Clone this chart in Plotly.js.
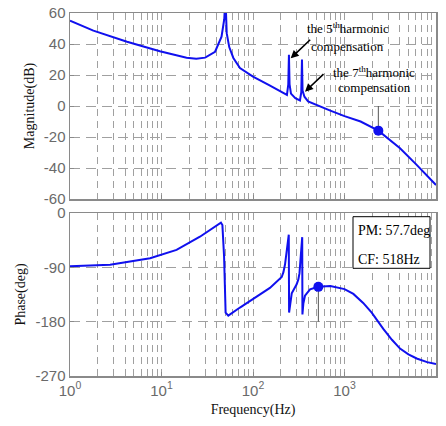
<!DOCTYPE html>
<html>
<head>
<meta charset="utf-8">
<script src="https://cdn.plot.ly/plotly-3.0.1.min.js"></script>
<style>html,body{margin:0;padding:0;background:#fff;}#chart{width:446px;height:426px;}</style>
</head>
<body>
<div id="chart"></div>
<script>
// Magnitude (dB) vs frequency (Hz)
const freqMag = [1, 1.8, 4.2, 9.6, 18.8, 24, 30, 38.5, 45.3, 48.5, 50, 51.6, 55, 61, 72, 100, 150, 215, 235, 243, 247, 251, 260, 290, 326, 337, 343, 348, 365, 400, 518, 700, 1000, 1500, 2343, 3000, 4045, 6150, 10000];
const magDb   = [55, 48.6, 41.5, 35.3, 31.2, 30.5, 31.2, 35, 44.7, 56, 70, 47, 38, 31, 24.5, 19, 13.5, 8.5, 7.2, 14, 33, 14, 8, 5, 3.6, 9, 30, 10, 6, 3, 0, -3, -6.5, -10, -15.9, -21, -27.3, -38, -51];

// Phase (deg) vs frequency (Hz)
const freqPh = [1, 2.74, 7.5, 14.6, 26.3, 40, 44.6, 46.3, 48.3, 50.2, 53.7, 72, 100, 153, 206, 215, 224, 233, 243, 246, 248, 265, 300, 313, 322, 332, 342, 345, 347, 355, 370, 420, 518, 700, 1000, 1250, 1600, 1983, 2655, 3300, 4045, 5000, 6150, 8000, 10000];
const phDeg  = [-88.4, -85.7, -74.8, -61, -39.3, -20.2, -15.8, -20, -72, -165, -170, -156.6, -142, -124, -106, -98, -85, -62, -40, -36, -165, -133, -118, -110, -100, -77, -50, -40, -168, -150, -137, -126.5, -122.3, -121, -126, -134, -149, -165, -192, -210, -224.6, -234, -241, -247, -250];

// Margin markers
const gmFreq = [2343];
const gmMag = [-15.9];
const gmLineMag = [0, -15.9];
const pmFreq = [518];
const pmPhase = [-122.3];
const pmLinePhase = [-180, -122.3];

// Axis ticks
const xTickVals = [1, 10, 100, 1000, 10000];
const xTickText = ['10<sup>0</sup>', '10<sup>1</sup>', '10<sup>2</sup>', '10<sup>3</sup>', '10<sup>4</sup>'];
const magTicks = [-60, -40, -20, 0, 20, 40, 60];
const magTickText = ['-60', '-40', '-20', '0', '20', '40', '60'];
const phTicks = [-270, -180, -90, 0];
const phTickText = ['-270', '-180', '-90', '0'];

const blue = '#1010ee';
const gridC = '#a0a0a0';
const frameC = '#8a8a8a';
const tickFont = {family: 'Liberation Sans, Arial, sans-serif', size: 15, color: '#6a6a6a'};
const titleFont = {family: 'Liberation Serif, Times New Roman, serif', size: 14, color: '#111'};

const traces = [
  {x: freqMag, y: magDb, xaxis: 'x', yaxis: 'y', mode: 'lines', line: {color: blue, width: 2}, hoverinfo: 'skip'},
  {x: [gmFreq[0], gmFreq[0]], y: gmLineMag, xaxis: 'x', yaxis: 'y', mode: 'lines', line: {color: '#555', width: 1}},
  {x: gmFreq, y: gmMag, xaxis: 'x', yaxis: 'y', mode: 'markers', marker: {color: blue, size: 10}},
  {x: freqPh, y: phDeg, xaxis: 'x2', yaxis: 'y2', mode: 'lines', line: {color: blue, width: 2}},
  {x: [pmFreq[0], pmFreq[0]], y: pmLinePhase, xaxis: 'x2', yaxis: 'y2', mode: 'lines', line: {color: '#555', width: 1}},
  {x: pmFreq, y: pmPhase, xaxis: 'x2', yaxis: 'y2', mode: 'markers', marker: {color: blue, size: 10}}
];

const xBase = {
  type: 'log', range: [0, 4], tickvals: xTickVals, ticktext: xTickText,
  showgrid: true, gridcolor: gridC, griddash: '7px,5px', gridwidth: 1,
  minor: {dtick: 'D1', showgrid: true, gridcolor: gridC, griddash: '7px,5px', gridwidth: 1, ticks: ''},
  showline: true, linecolor: frameC, linewidth: 1.5, mirror: true,
  ticks: 'inside', ticklen: 4, tickcolor: frameC,
  tickfont: tickFont, zeroline: false
};
const yBase = {
  showgrid: true, gridcolor: gridC, griddash: '10px,6px', gridwidth: 1,
  showline: true, linecolor: frameC, linewidth: 1.5, mirror: true,
  ticks: 'inside', ticklen: 4, tickcolor: frameC,
  tickfont: tickFont, zeroline: false
};

const px = v => (v - 70) / 366;
const py = v => (376 - v) / 363;
const annFont = {family: 'Liberation Serif, Times New Roman, serif', size: 13, color: '#000'};

const layout = {
  width: 446, height: 426,
  margin: {l: 70, r: 10, t: 13, b: 50},
  paper_bgcolor: '#fff', plot_bgcolor: '#fff',
  showlegend: false,
  xaxis: Object.assign({}, xBase, {domain: [0, 1], anchor: 'y', showticklabels: false}),
  yaxis: Object.assign({}, yBase, {domain: [0.4876, 1], range: [-60, 60], tickvals: magTicks, ticktext: magTickText, anchor: 'x',
    title: {text: 'Magnitude(dB)', font: titleFont, standoff: 6}}),
  xaxis2: Object.assign({}, xBase, {domain: [0, 1], anchor: 'y2', matches: 'x',
    title: {text: 'Frequency(Hz)', font: titleFont, standoff: 6}}),
  yaxis2: Object.assign({}, yBase, {domain: [0, 0.449], range: [-270, 0], tickvals: phTicks, ticktext: phTickText, anchor: 'x2',
    title: {text: 'Phase(deg)', font: titleFont, standoff: 6}}),
  shapes: [
    {type: 'rect', xref: 'paper', yref: 'paper', x0: px(353), x1: px(430), y0: py(268.3), y1: py(216.7),
     line: {color: '#000', width: 1}, fillcolor: '#fff', layer: 'above'}
  ],
  annotations: [
    {xref: 'paper', yref: 'paper', x: px(348), y: py(28), text: 'the 5<sup>th</sup>harmonic', showarrow: false, font: annFont, xanchor: 'center', yanchor: 'middle'},
    {xref: 'paper', yref: 'paper', x: px(347.5), y: py(46.7), text: 'compensation', showarrow: false, font: annFont, xanchor: 'center', yanchor: 'middle'},
    {xref: 'paper', yref: 'paper', x: px(373.5), y: py(72), text: 'the 7<sup>th</sup>harmonic', showarrow: false, font: annFont, xanchor: 'center', yanchor: 'middle'},
    {xref: 'paper', yref: 'paper', x: px(374.5), y: py(87.3), text: 'compensation', showarrow: false, font: annFont, xanchor: 'center', yanchor: 'middle'},
    {xref: 'paper', yref: 'paper', x: px(290.7), y: py(58.3), text: '', showarrow: true, ax: 21, ay: -20, arrowhead: 2, arrowsize: 1, arrowwidth: 1.6, arrowcolor: '#000'},
    {xref: 'paper', yref: 'paper', x: px(305), y: py(91.7), text: '', showarrow: true, ax: 20, ay: -19, arrowhead: 2, arrowsize: 1, arrowwidth: 1.6, arrowcolor: '#000'},
    {xref: 'paper', yref: 'paper', x: px(356), y: py(230.7), text: 'PM: 57.7deg', showarrow: false, xanchor: 'left', yanchor: 'middle',
     font: {family: 'Liberation Serif, Times New Roman, serif', size: 14, color: '#000'}},
    {xref: 'paper', yref: 'paper', x: px(356), y: py(259.3), text: 'CF: 518Hz', showarrow: false, xanchor: 'left', yanchor: 'middle',
     font: {family: 'Liberation Serif, Times New Roman, serif', size: 14, color: '#000'}}
  ]
};

Plotly.newPlot('chart', traces, layout, {staticPlot: true, displayModeBar: false});
</script>
</body>
</html>
